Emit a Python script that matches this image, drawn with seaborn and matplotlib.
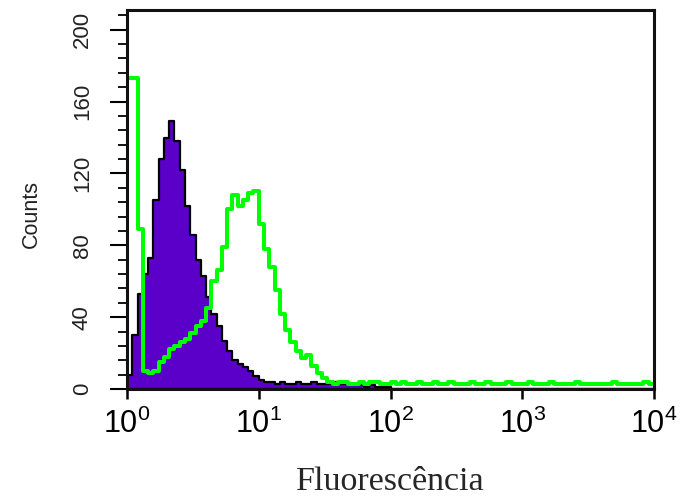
import numpy as np
import pandas as pd
import matplotlib
matplotlib.use("Agg")
import matplotlib.pyplot as plt
import seaborn as sns
from matplotlib.ticker import FixedLocator, FixedFormatter, MultipleLocator, NullLocator

# ---------------- data ----------------
log_bin_width = 0.04          # 25 channels per decade, 10^0 .. 10^4
n_bins = 100

purple_counts = [
    8, 30, 53, 64, 73, 105, 128, 140, 149, 138,
    122, 102, 86, 72, 63, 51, 42, 35, 27, 21,
    16, 14, 12, 10, 7, 5, 4, 4, 3, 4,
    3, 3, 4, 3, 3, 4, 3, 3, 3, 4,
    3, 3, 3, 2, 2, 1, 2, 1, 1, 1,
    0, 0, 0, 0, 0, 0, 0, 0, 0, 0,
    0, 0, 0, 0, 0, 0, 0, 0, 0, 0,
    0, 0, 0, 0, 0, 0, 0, 0, 0, 0,
    0, 0, 0, 0, 0, 0, 0, 0, 0, 0,
    0, 0, 0, 0, 0, 0, 0, 0, 0, 0,
]

green_counts = [
    173, 173, 89, 10, 9, 10, 15, 18, 22, 24,
    26, 28, 31, 35, 38, 45, 60, 66, 79, 100,
    108, 102, 105, 109, 110, 92, 78, 68, 55, 42,
    33, 26, 21, 17, 19, 13, 9, 6, 4, 3,
    4, 4, 3, 3, 4, 3, 4, 4, 3, 3,
    4, 3, 4, 3, 3, 4, 3, 3, 4, 3,
    3, 4, 3, 3, 3, 4, 3, 3, 4, 3,
    3, 3, 4, 3, 3, 3, 4, 3, 3, 3,
    4, 3, 3, 3, 3, 4, 3, 3, 3, 3,
    3, 3, 4, 3, 3, 3, 3, 3, 4, 3,
]

x_tick_values = [1, 10, 100, 1000, 10000]
x_tick_labels = [r"$10^0$", r"$10^1$", r"$10^2$", r"$10^3$", r"$10^4$"]
y_tick_values = [0, 40, 80, 120, 160, 200]
y_tick_labels = ["0", "40", "80", "120", "160", "200"]
x_label = "Fluorescência"
y_label = "Counts"

# ---------------- build table ----------------
centers = 10 ** ((np.arange(n_bins) + 0.5) * log_bin_width)
df = pd.DataFrame({
    "fluor": np.concatenate([centers, centers]),
    "count": purple_counts + green_counts,
    "sample": ["controle"] * n_bins + ["marcado"] * n_bins,
})

sns.set_style("ticks")
plt.rcParams["font.family"] = ["Liberation Sans", "DejaVu Sans"]
plt.rcParams["mathtext.fontset"] = "custom"
plt.rcParams["mathtext.rm"] = "Liberation Sans"
plt.rcParams["mathtext.it"] = "Liberation Sans:italic"
plt.rcParams["mathtext.bf"] = "Liberation Sans:bold"

fig = plt.figure(figsize=(6.8, 4.97), dpi=100)
ax = fig.add_axes([127 / 680, 1 - 389 / 497, (654 - 127) / 680, (389 - 10) / 497])

sns.histplot(data=df[df["sample"] == "controle"], x="fluor", weights="count",
             log_scale=True, binwidth=log_bin_width, binrange=(0, 4),
             element="step", fill=True, color="#5a00c8", alpha=1,
             edgecolor="black", linewidth=1.6, ax=ax)
sns.histplot(data=df[df["sample"] == "marcado"], x="fluor", weights="count",
             log_scale=True, binwidth=log_bin_width, binrange=(0, 4),
             element="step", fill=False, color="#00ff00", linewidth=2.9, ax=ax)

ax.set_xlim(1, 1e4)
ax.set_ylim(0, 211)

for s in ax.spines.values():
    s.set_visible(True)
    s.set_linewidth(2.2)
    s.set_color("#111111")

ax.xaxis.set_major_locator(FixedLocator(x_tick_values))
ax.xaxis.set_major_formatter(FixedFormatter(x_tick_labels))
ax.xaxis.set_minor_locator(NullLocator())
ax.yaxis.set_major_locator(FixedLocator(y_tick_values))
ax.yaxis.set_major_formatter(FixedFormatter(y_tick_labels))
ax.yaxis.set_minor_locator(MultipleLocator(8))

ax.tick_params(axis="x", which="major", length=7, width=1.8, pad=7,
               labelsize=22, colors="black")
ax.tick_params(axis="y", which="major", length=12.5, width=1.5, pad=12,
               labelsize=16, colors="black")
ax.tick_params(axis="y", which="minor", length=6.5, width=1.3, colors="black")
ax.tick_params(axis="y", labelcolor="#222222")
for lab in ax.get_yticklabels():
    lab.set_rotation(90)
    lab.set_verticalalignment("center")

ax.set_xlabel(x_label, fontsize=24.5, family=["Liberation Serif", "DejaVu Serif"])
ax.xaxis.label.set_verticalalignment("baseline")
ax.xaxis.set_label_coords(0.5, -(490 - 389) / 379)
ax.set_ylabel(y_label, fontsize=15.5, color="#222222")
ax.yaxis.label.set_verticalalignment("center")
ax.yaxis.set_label_coords(-(127 - 31) / 527, (389 - 214) / 379)

fig.savefig("out.png", dpi=100, facecolor="white")
